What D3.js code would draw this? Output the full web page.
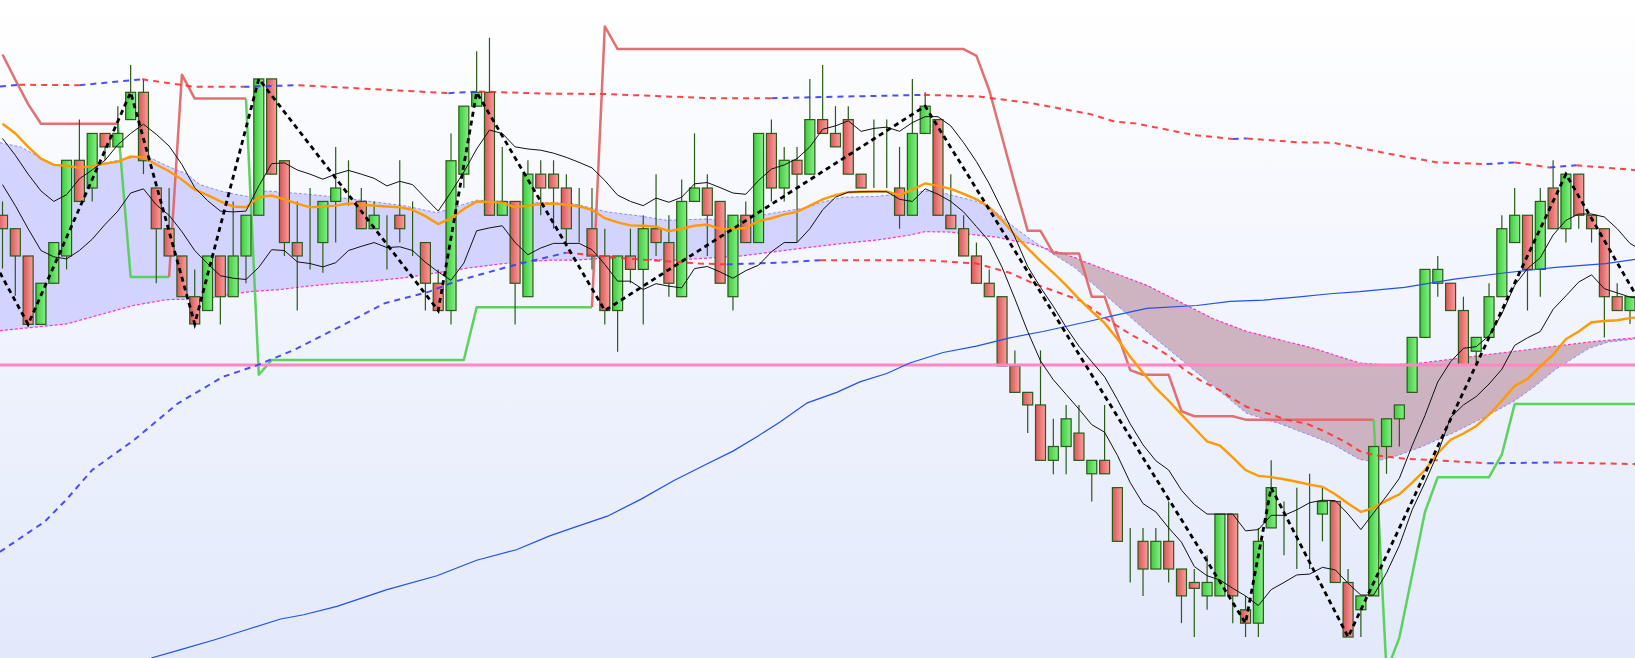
<!DOCTYPE html>
<html>
<head>
<meta charset="utf-8">
<script src="https://cdn.jsdelivr.net/npm/d3@7"></script>
<style>
  html, body { margin: 0; padding: 0; overflow: hidden; background: #fff; }
</style>
</head>
<body>
<svg id="chart" width="1635" height="658"></svg>
<script>
'use strict';

// candles, one per bar (price units)
const OPEN = [1087,1055,990,827,925,990,1218,1152,1282,1250,
  1315,1380,1152,1055,990,893,860,990,893,990,
  1087,1412,1217,1022,1022,1022,1120,1152,1120,1055,
  1087,1087,1022,1022,925,860,1185,1347,1380,1087,
  1120,893,1185,1185,1152,1055,1055,990,860,990,
  958,1055,1022,893,1120,1152,1120,893,1087,1022,
  1282,1152,1218,1185,1315,1282,1315,1185,1152,1152,
  1152,1087,1282,1315,1087,1055,990,925,893,728,
  665,635,503,536,568,471,503,438,310,310,
  244,310,244,212,180,180,375,147,115,342,
  375,375,375,375,405,212,147,180,536,602,
  665,796,925,925,860,763,796,893,1022,1087,
  958,1152,1055,1185,1087,1055,893,860];
const HIGH = [1120,1055,990,925,1022,1218,1315,1282,1282,1347,
  1445,1412,1152,1152,990,958,990,990,1120,1087,
  1412,1412,1217,1120,1152,1120,1250,1218,1152,1120,
  1087,1218,1120,1022,958,1282,1347,1478,1510,1250,
  1120,1218,1218,1218,1185,1152,1152,1055,990,1055,
  1087,1185,1087,1172,1282,1185,1120,1087,1120,1282,
  1315,1250,1250,1412,1445,1347,1347,1185,1315,1315,
  1250,1412,1380,1315,1185,1087,1022,958,893,765,
  665,765,602,635,635,503,635,438,342,342,
  342,405,244,244,277,375,375,180,342,503,
  405,438,471,438,405,244,180,536,602,635,
  796,958,990,925,893,796,925,1087,1152,1087,
  1152,1218,1185,1185,1087,1055,925,893];
const LOW = [960,895,827,827,925,958,1120,1120,1218,1250,
  1315,1185,925,990,893,828,860,827,893,925,
  1087,1185,990,860,958,950,1022,1110,1055,1055,
  958,1022,990,860,860,827,1152,1347,1087,1087,
  827,893,1087,1055,1022,1022,958,827,762,925,
  827,990,893,893,1120,990,925,860,1022,1022,
  1120,1120,1022,1185,1282,1250,1185,1152,1152,1152,
  1055,1087,1282,1087,1055,990,925,893,728,665,
  568,503,470,470,503,405,471,310,212,180,
  244,212,115,82,147,180,115,82,82,342,
  277,244,244,310,212,82,82,180,471,536,
  665,796,893,860,730,730,796,893,1022,860,
  893,1055,1022,1055,1022,796,860,828];
const CLOSE = [1055,990,827,925,1022,1218,1120,1282,1250,1282,
  1380,1217,1055,990,893,828,990,893,990,1087,
  1412,1185,1022,990,1022,1120,1152,1152,1055,1087,
  1087,1055,1022,925,860,1217,1347,1380,1087,1120,
  925,1185,1152,1152,1055,1055,990,860,990,958,
  1055,1022,925,1120,1152,1087,925,1087,1022,1282,
  1152,1218,1185,1315,1282,1250,1185,1152,1152,1152,
  1087,1282,1347,1087,1055,990,925,893,728,665,
  635,503,536,602,503,503,471,310,310,244,
  310,244,180,198,212,375,180,115,310,438,
  375,375,375,405,212,82,180,536,602,635,
  796,958,958,860,730,796,893,1055,1087,958,
  1120,1055,1185,1087,1055,893,860,893];

// moving average (orange), per bar (last value is the bar just past the right edge)
const MA_SHORT = [1305,1282,1250,1222,1207,1205,1200,1204,1210,1215,1227,1225,1208,1192,1172,1148,1135,1120,1108,1106,1130,1134,
  1125,1115,1106,1108,1110,1115,1112,1110,1108,1106,1100,1085,1066,1080,1102,1120,1119,1117,1106,1110,1114,
  1115,1112,1108,1100,1080,1070,1063,1062,1060,1049,1055,1062,1065,1054,1054,1057,1073,1080,1089,1095,1110,
  1125,1135,1142,1143,1144,1144,1135,1148,1163,1157,1150,1138,1125,1106,1075,1040,1008,978,950,920,888,
  858,830,792,750,712,675,645,612,580,548,538,510,480,466,463,458,452,445,440,422,400,
  380,390,407,422,450,480,520,552,567,585,612,645,680,697,727,755,792,810,832,835,837,842,845];

// channel (thin black lines), per bar
const BAND_UPPER = [1270,1230,1185,1145,1120,1136,1174,1195,1218,1255,1282,1304,1280,1252,1208,1153,1122,1097,1095,1097,1157,1210,
  1212,1195,1185,1173,1185,1194,1185,1175,1157,1168,1160,1128,1097,1142,1190,1245,1290,1282,1250,1245,1242,
  1235,1225,1213,1200,1170,1135,1120,1110,1128,1118,1130,1162,1165,1153,1140,1137,1170,1197,1207,1222,1250,
  1292,1300,1312,1287,1294,1297,1287,1308,1322,1322,1300,1260,1215,1162,1100,1035,965,915,870,820,775,
  738,702,648,590,540,502,480,432,398,375,375,375,335,338,372,372,385,402,408,407,375,
  338,378,418,460,538,610,690,738,770,774,800,852,920,960,986,1040,1075,1090,1090,1083,1055,1020,1002];
const BAND_LOWER = [1160,1110,1055,1003,988,983,1003,1030,1065,1097,1140,1150,1112,1087,1048,1003,972,943,937,934,963,1005,
  1003,976,972,964,974,1003,1013,1022,1010,1012,1003,975,952,932,973,1050,1057,1062,1022,993,1009,
  1020,1020,1020,1005,970,930,930,910,924,918,914,960,965,952,937,955,968,1000,1022,1022,1055,
  1100,1130,1142,1143,1143,1143,1125,1120,1150,1137,1120,1095,1060,1025,963,888,810,740,695,660,625,
  588,570,515,450,400,380,342,308,250,228,218,198,180,157,195,212,230,232,248,242,210,
  182,182,235,300,385,450,520,605,635,655,685,720,777,795,810,863,895,928,945,912,902,892,888];

// zigzag on closes: [bar, price]
const ZIGZAG = [[-0.2,950],[2,827],[10,1380],[15,828],[20,1412],[34,860],[37,1380],[47,860],
  [72,1347],[97,115],[99,438],[105,82],[122,1185],[127.4,900]];

// trailing stop, per bar; STOP_DIR 1 = below price (green), -1 = above price (red)
const STOP = [1470,1410,1352,1305,1305,1305,1305,1305,1305,1305,
  940,940,940,940,1422,1365,1365,1365,1365,1365,
  707,742,742,742,742,742,742,742,742,742,742,742,742,742,742,742,742,
  868,868,868,868,868,868,868,868,868,868,
  1537,1483,1483,1483,1483,1483,1483,1483,1483,1483,1483,1483,1483,1483,1483,1483,1483,1483,1483,1483,
  1483,1483,1483,1483,1483,1483,1483,1483,1483,
  1467,1385,1273,1160,1050,1050,997,996,996,893,893,805,718,707,707,707,620,608,608,608,608,
  600,600,600,600,600,600,600,600,600,600,600,
  0,80,230,380,463,463,463,463,463,517,
  637,637,637,637,637,637,637,637,637,637,637];
const STOP_DIR = [-1,-1,-1,-1,-1,-1,-1,-1,-1,-1, 1,1,1,1, -1,-1,-1,-1,-1,-1,
  1,1,1,1,1,1,1,1,1,1,1,1,1,1,1,1,1,1,1,1,1,1,1,1,1,1,1,
  -1,-1,-1,-1,-1,-1,-1,-1,-1,-1,-1,-1,-1,-1,-1,-1,-1,-1,-1,-1,-1,-1,-1,-1,-1,-1,-1,-1,-1,-1,
  -1,-1,-1,-1,-1,-1,-1,-1,-1,-1,-1,-1,-1,-1,-1,-1,-1,-1,-1,-1,-1,-1,-1,-1,-1,-1,-1,-1,-1,-1,-1,
  1,1,1,1,1,1,1,1,1,1,1,1,1,1,1,1,1,1,1,1,1];

// envelope (dashed), [bar, price]
const ENV_UPPER = [[-0.2,1394],[1.3,1398],[6.0,1397],[10.9,1411],[15.0,1393],[18.8,1393],[23.1,1397],
  [34.8,1378],[37.2,1382],[42.3,1377],[46.9,1376],[55.4,1366],[60.0,1366],[71.9,1374],[76.2,1370],
  [80.3,1354],[84.9,1328],[86.8,1310],[88.4,1306],[93.0,1278],[96.0,1269],[97.1,1270],[101.1,1261],
  [103.8,1260],[109.3,1227],[112.0,1213],[115.8,1209],[118.0,1213],[120.7,1201],[122.8,1206],[127.4,1195]];
const ENV_LOWER = [[-0.2,285],[3.3,357],[5.0,410],[7.0,480],[10.2,550],[13.7,639],[17.2,702],[19.9,730],
  [22.8,767],[26.3,821],[29.8,877],[33.3,905],[35.3,929],[39.9,968],[44.0,998],[48.6,984],[54.4,972],
  [56.5,970],[58.6,972],[61.2,975],[63.8,980],[72.1,980],[76.0,972],[78.6,950],[80.4,925],[84.1,884],
  [85.6,852],[86.9,825],[88.2,800],[89.8,775],[91.1,750],[92.1,722],[93.4,695],[95.0,670],[96.0,650],
  [97.1,630],[98.7,615],[100.2,600],[101.8,590],[103.3,570],[104.9,545],[105.9,525],[107.1,515],
  [109.4,507],[112.0,503],[115.9,496],[121.2,498],[127.4,494]];

// cloud spans, [bar, price]
const CLOUD_A = [[-0.2,1260],[1.4,1250],[2.9,1225],[4.0,1207],[6.0,1200],[8.1,1212],[10.2,1225],[11.3,1227],
  [12.8,1205],[14.4,1185],[15.4,1160],[17.0,1145],[18.0,1138],[19.1,1132],[20.6,1145],[23.5,1138],
  [26.1,1130],[28.7,1120],[31.3,1110],[33.9,1093],[34.9,1102],[37.0,1123],[39.1,1120],[42.7,1117],
  [44.5,1115],[47.2,1095],[49.8,1085],[51.8,1075],[55.0,1078],[57.0,1072],[58.9,1085],[60.7,1095],
  [62.8,1105],[63.8,1117],[65.6,1130],[68.2,1132],[70.8,1140],[72.0,1145],[73.4,1140],[74.7,1130],
  [76.0,1120],[77.1,1105],[78.1,1080],[79.1,1055],[80.2,1030],[81.2,1010],[82.5,985],[83.8,960],
  [84.1,950],[86.7,880],[89.3,810],[91.9,745],[94.5,680],[97.1,615],[99.7,590],[102.3,560],
  [103.9,540],[105.9,505],[107.1,500],[108.9,515],[110.7,535],[113.3,570],[115.9,610],[118.0,645],
  [119.6,680],[121.2,720],[123.8,770],[125.3,785],[127.4,792]];
const CLOUD_B = [[-0.2,812],[2.4,820],[5.0,828],[7.6,850],[10.2,872],[12.8,886],[15.9,888],[18.0,900],
  [19.6,906],[21.7,910],[23.5,917],[26.1,925],[28.7,930],[31.3,938],[33.9,950],[36.5,962],[39.1,972],
  [42.7,980],[44.5,980],[47.2,985],[49.8,982],[52.4,980],[55.0,985],[57.6,990],[60.2,1000],[62.8,1010],
  [65.6,1020],[68.2,1028],[70.8,1040],[72.0,1048],[73.9,1047],[76.0,1040],[77.6,1035],[78.6,1028],
  [80.2,1020],[81.2,1010],[82.8,995],[83.8,985],[84.1,980],[86.7,950],[89.3,920],[91.9,880],
  [94.5,840],[97.1,810],[99.7,790],[102.3,770],[105.9,735],[108.1,730],[110.7,735],[113.3,745],
  [115.9,755],[118.6,765],[121.2,775],[123.8,785],[127.4,795]];

// long moving average (blue), [bar, price]
const MA_LONG = [[11.6,32],[13.9,52],[16.5,75],[19.1,100],[21.7,125],[23.5,135],[26.1,155],[30.0,195],
  [33.9,228],[37.0,265],[40.1,290],[42.7,323],[44.5,342],[47.2,370],[49.8,410],[52.4,455],[55.0,495],
  [57.0,525],[58.9,560],[60.7,595],[62.8,640],[65.1,665],[66.9,690],[69.0,710],[70.8,735],[73.4,760],
  [76.0,775],[78.6,795],[81.2,810],[84.9,835],[86.7,848],[89.3,865],[93.2,872],[95.8,882],[98.4,885],
  [101.0,892],[103.6,900],[105.9,905],[109.4,915],[113.3,935],[117.3,950],[121.2,963],[125.1,972],[127.4,982]];

const LEVEL = 730;

const svg = d3.select('#chart');
const W = +svg.attr('width'), H = +svg.attr('height');
const x = d3.scaleLinear().domain([0, 127]).range([2.5, 1630]);
const y = d3.scaleLinear().domain([32, 1600]).range([H, 0]);
const defs = svg.append('defs');

function grad(id, stops, vertical) {
  const g = defs.append('linearGradient').attr('id', id)
    .attr('x1', 0).attr('y1', 0)
    .attr('x2', vertical ? 0 : 1).attr('y2', vertical ? 1 : 0);
  stops.forEach(([o, c]) => g.append('stop').attr('offset', o).attr('stop-color', c));
}
grad('bg', [[0, '#ffffff'], [1, '#e2e9fb']], true);
grad('up', [[0, '#3dcc3d'], [1, '#88ee88']]);
grad('down', [[0, '#dc5656'], [1, '#f6a0a0']]);

svg.append('rect').attr('width', W).attr('height', H).attr('fill', 'url(#bg)');

const line = d3.line().x(d => x(d[0])).y(d => y(d[1]));
const toBottom = d3.area().x(d => x(d[0])).y0(H + 20).y1(d => y(d[1]));
const toTop = d3.area().x(d => x(d[0])).y0(-20).y1(d => y(d[1]));

// group consecutive segments of the same colour into polylines
function runs(points, colorOf) {
  const out = [];
  for (let k = 1; k < points.length; k++) {
    const c = colorOf(points[k - 1], points[k], k);
    const last = out[out.length - 1];
    if (last && last.color === c) last.pts.push(points[k]);
    else out.push({ color: c, pts: [points[k - 1], points[k]] });
  }
  return out;
}

// cloud
defs.append('clipPath').attr('id', 'aboveB').append('path').attr('d', toTop(CLOUD_B));
defs.append('clipPath').attr('id', 'aboveA').append('path').attr('d', toTop(CLOUD_A));
svg.append('path').attr('d', toBottom(CLOUD_A)).attr('clip-path', 'url(#aboveB)')
  .attr('fill', '#ccccff').attr('opacity', 0.85);
svg.append('path').attr('d', toBottom(CLOUD_B)).attr('clip-path', 'url(#aboveA)')
  .attr('fill', '#c4a2b0').attr('opacity', 0.78);
svg.append('path').attr('d', line(CLOUD_A)).attr('fill', 'none')
  .attr('stroke', '#8a8aff').attr('stroke-width', 1).attr('stroke-dasharray', '3,2');
svg.append('path').attr('d', line(CLOUD_B)).attr('fill', 'none')
  .attr('stroke', '#ff33cc').attr('stroke-width', 1.2).attr('stroke-dasharray', '3,2');

// trailing stop
const stopPts = STOP.map((v, i) => [i, v]);
svg.append('g').selectAll('path')
  .data(runs(stopPts, (a, b, k) => STOP_DIR[k] > 0 ? '#55d055' : '#e06868'))
  .join('path')
    .attr('d', d => line(d.pts))
    .attr('fill', 'none')
    .attr('stroke', d => d.color)
    .attr('stroke-width', 2.5)
    .attr('stroke-linejoin', 'round')
    .attr('opacity', 0.95);

// candles
const bars = d3.range(OPEN.length);
const cg = svg.append('g');
cg.selectAll('line').data(bars).join('line')
  .attr('x1', i => x(i)).attr('x2', i => x(i))
  .attr('y1', i => y(HIGH[i])).attr('y2', i => y(LOW[i]))
  .attr('stroke', '#2b5a18').attr('stroke-width', 1.2);
cg.selectAll('rect').data(bars).join('rect')
  .attr('x', i => x(i) - 5)
  .attr('width', 10)
  .attr('y', i => y(Math.max(OPEN[i], CLOSE[i])))
  .attr('height', i => Math.abs(y(OPEN[i]) - y(CLOSE[i])))
  .attr('fill', i => CLOSE[i] >= OPEN[i] ? 'url(#up)' : 'url(#down)')
  .attr('stroke', '#2b5a18').attr('stroke-width', 1.2);

// horizontal level
svg.append('line').attr('x1', 0).attr('x2', W)
  .attr('y1', y(LEVEL)).attr('y2', y(LEVEL))
  .attr('stroke', '#ff88c4').attr('stroke-width', 3);

// long average
svg.append('path').attr('d', line(MA_LONG)).attr('fill', 'none')
  .attr('stroke', '#2250ee').attr('stroke-width', 1.2);

// envelopes, blue while rising, red otherwise
[ENV_UPPER, ENV_LOWER].forEach(env => {
  svg.append('g').selectAll('path')
    .data(runs(env, (a, b) => b[1] > a[1] ? '#3a3aff' : '#ff3030'))
    .join('path')
      .attr('d', d => line(d.pts))
      .attr('fill', 'none')
      .attr('stroke', d => d.color)
      .attr('stroke-width', 2)
      .attr('stroke-dasharray', '6,5')
      .attr('opacity', 0.9);
});

// short average
svg.append('path').attr('d', line(MA_SHORT.map((v, i) => [i, v]))).attr('fill', 'none')
  .attr('stroke', '#ff9a00').attr('stroke-width', 2.4);

// channel
[BAND_UPPER, BAND_LOWER].forEach(b => {
  svg.append('path').attr('d', line(b.map((v, i) => [i, v]))).attr('fill', 'none')
    .attr('stroke', '#111').attr('stroke-width', 1);
});

// zigzag
svg.append('path').attr('d', line(ZIGZAG)).attr('fill', 'none')
  .attr('stroke', '#000').attr('stroke-width', 2.8).attr('stroke-dasharray', '5,4');
</script>
</body>
</html>
